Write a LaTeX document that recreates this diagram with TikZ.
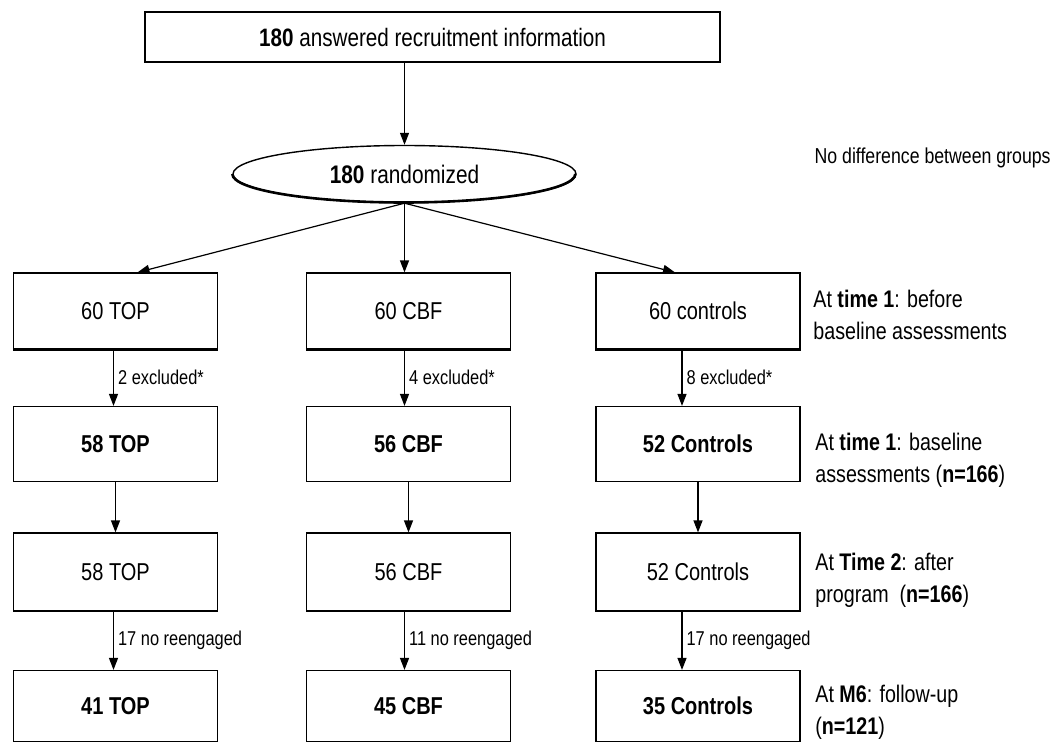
\documentclass[tikz,border=0pt]{standalone}
\usepackage{fontspec}
\setmainfont{Liberation Sans}[FakeStretch=0.82]
\usetikzlibrary{shapes.geometric,arrows.meta}

\tikzset{
  box/.style={draw, line width=0.6pt, minimum width=102pt, minimum height=38pt, inner sep=0pt, font=\fontsize{12.2}{14}\selectfont},
  side/.style={anchor=west, align=left, inner sep=0pt, font=\fontsize{12}{16}\selectfont},
  note/.style={anchor=west, inner sep=2pt, font=\fontsize{10}{12}\selectfont},
  arr/.style={-{Triangle[length=6pt,width=4.5pt]}, line width=0.6pt}
}

\begin{document}
\begin{tikzpicture}[x=0.5pt,y=-0.5pt]
  \useasboundingbox (0,0) rectangle (1052,743);

  \node[box, minimum width=287.5pt, minimum height=25pt, font=\fontsize{12.6}{14}\selectfont] (top) at (432.5,37) {\textbf{180} answered recruitment information};
  \node[draw, ellipse, line width=0.7pt, minimum width=171.5pt, minimum height=28.5pt, inner sep=0pt, font=\fontsize{12.7}{14}\selectfont] (rand) at (404.5,174) {\textbf{180} randomized};
  \draw[line width=1.3pt] (rand.west) arc[start angle=180, end angle=360, x radius=85.75pt, y radius=14.25pt];
  \node[anchor=east, inner sep=0pt, font=\fontsize{10.8}{12}\selectfont] (nodiff) at (1051,158) {No difference between groups};

  \foreach \r/\y/\h/\a/\b/\c in {1/311/38pt/{60 TOP}/{60 CBF}/{60 controls},
                                 2/444/37.5pt/{\textbf{58 TOP}}/{\textbf{56 CBF}}/{\textbf{52 Controls}},
                                 3/572/39pt/{58 TOP}/{56 CBF}/{52 Controls},
                                 4/706/35.5pt/{\textbf{41 TOP}}/{\textbf{45 CBF}}/{\textbf{35 Controls}}}{
      \node[box, minimum height=\h] (a\r) at (115.5,\y) {\a};
      \node[box, minimum height=\h] (b\r) at (408.5,\y) {\b};
      \node[box, minimum height=\h] (c\r) at (698,\y) {\c};
    }
  \foreach \n in {a1,b1,c1}{
      \draw[line width=1.6pt] (\n.south west) -- (\n.south east);
    }

  \node[side] (t1) at (813,315) {At \textbf{time 1}: before\\baseline assessments};
  \node[side] (t2) at (815,460) {At \textbf{time 1}: baseline\\assessments (\textbf{n=166})};
  \node[side] (t3) at (815,580) {At \textbf{Time 2}: after\\program~ (\textbf{n=166})};
  \node[side] (t4) at (815,712) {At \textbf{M6}: follow-up\\(\textbf{n=121})};

  \draw[arr] (rand.north |- top.south) -- (rand.north);
  \draw[arr] (rand.south) -- ([xshift=11pt]a1.north);
  \draw[arr] (rand.south) -- (rand.south |- b1.north);
  \draw[arr] (rand.south) -- ([xshift=-11.5pt]c1.north);

  \draw[arr] ([xshift=-1pt]a1.south) -- node[note] {2 excluded*} ([xshift=-1pt]a2.north);
  \draw[arr] ([xshift=-2pt]b1.south) -- node[note] {4 excluded*} ([xshift=-2pt]b2.north);
  \draw[arr] ([xshift=-8pt]c1.south) -- node[note] {8 excluded*} ([xshift=-8pt]c2.north);
  \foreach \n in {a,b,c}{
      \draw[arr] (\n2.south) -- (\n3.north);
    }
  \draw[arr] ([xshift=-1pt]a3.south) -- node[note] {17 no reengaged} ([xshift=-1pt]a4.north);
  \draw[arr] ([xshift=-2pt]b3.south) -- node[note] {11 no reengaged} ([xshift=-2pt]b4.north);
  \draw[arr] ([xshift=-8pt]c3.south) -- node[note] {17 no reengaged} ([xshift=-8pt]c4.north);
\end{tikzpicture}
\end{document}
